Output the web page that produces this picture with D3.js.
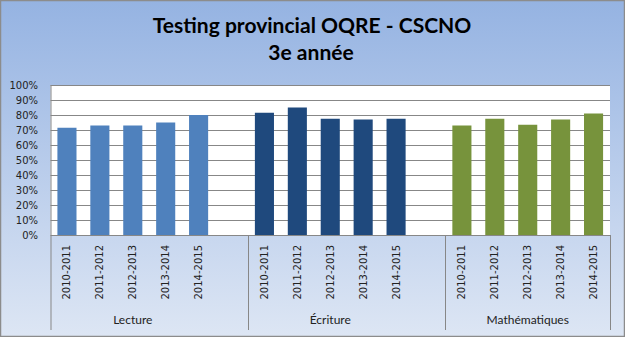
<!DOCTYPE html>
<html>
<head>
<meta charset="utf-8">
<script src="https://cdn.jsdelivr.net/npm/d3@7"></script>
<style>
  html, body { margin: 0; padding: 0; background: #fff; }
  svg { display: block; }
</style>
</head>
<body>
<div id="chart"></div>
<script>
// data
const subjects = ['Lecture', 'Écriture', 'Mathématiques'];
const years = ['2010-2011', '2011-2012', '2012-2013', '2013-2014', '2014-2015'];
const lecture = [71.5, 73, 73, 75, 80];
const ecriture = [81.5, 85, 77.5, 77, 77.5];
const maths = [73, 77.5, 73.5, 77, 81];
const yTicks = [0, 10, 20, 30, 40, 50, 60, 70, 80, 90, 100];
const colors = ['#4f81bd', '#1f497d', '#77933c'];

const width = 625, height = 337;
const margin = { top: 85, right: 15, bottom: 102, left: 50.5 };

// 17 slots: 5 years per subject with one empty slot between subjects
const slots = [];
const bars = [];
[lecture, ecriture, maths].forEach((vals, si) => {
  years.forEach((y, yi) => {
    const key = subjects[si] + '|' + y;
    slots.push(key);
    bars.push({ key: key, subject: si, year: y, value: vals[yi] });
  });
  if (si < subjects.length - 1) slots.push('gap' + si);
});

const svg = d3.select('#chart').append('svg')
  .attr('width', width)
  .attr('height', height);

// background gradient
const defs = svg.append('defs');
const grad = defs.append('linearGradient')
  .attr('id', 'bg')
  .attr('x1', 0).attr('y1', 0).attr('x2', 0).attr('y2', 1);
grad.append('stop').attr('offset', '0%').attr('stop-color', '#95b3e2');
grad.append('stop').attr('offset', '100%').attr('stop-color', '#dde6f4');

svg.append('rect')
  .attr('x', 0.5).attr('y', 0.5)
  .attr('width', width - 1).attr('height', height - 1)
  .attr('fill', 'url(#bg)')
  .attr('stroke', '#8c8c8c')
  .attr('stroke-width', 1.5);

const x = d3.scaleBand()
  .domain(slots)
  .range([margin.left, width - margin.right])
  .paddingInner(0.42)
  .paddingOuter(0.21);

const y = d3.scaleLinear()
  .domain([0, 100])
  .range([height - margin.bottom, margin.top]);

// plot area
svg.append('rect')
  .attr('x', margin.left)
  .attr('y', margin.top)
  .attr('width', width - margin.right - margin.left)
  .attr('height', y(0) - margin.top)
  .attr('fill', '#fff');

// gridlines
svg.append('g')
  .selectAll('line')
  .data(yTicks)
  .enter()
  .append('line')
  .attr('x1', margin.left)
  .attr('x2', width - margin.right)
  .attr('y1', d => Math.round(y(d)) + 0.5)
  .attr('y2', d => Math.round(y(d)) + 0.5)
  .attr('stroke', '#878787')
  .attr('stroke-width', 1);

// y labels
svg.append('g')
  .selectAll('text')
  .data(yTicks)
  .enter()
  .append('text')
  .attr('x', 38)
  .attr('y', d => y(d))
  .attr('dy', '0.35em')
  .attr('text-anchor', 'end')
  .attr('font-family', 'DejaVu Sans, Verdana, sans-serif')
  .attr('font-size', 10)
  .attr('fill', '#222')
  .text(d => d + '%');

// bars
svg.append('g')
  .selectAll('rect')
  .data(bars)
  .enter()
  .append('rect')
  .attr('x', d => x(d.key))
  .attr('y', d => y(d.value))
  .attr('width', x.bandwidth())
  .attr('height', d => y(0) - y(d.value))
  .attr('fill', d => colors[d.subject]);

// left axis line
svg.append('line')
  .attr('x1', margin.left + 0.5).attr('x2', margin.left + 0.5)
  .attr('y1', margin.top).attr('y2', 330)
  .attr('stroke', '#878787');

// group separators
const step = x.step();
const x0 = margin.left;
const seps = [6, 12, 17].map(n => Math.round(x0 + n * step) + 0.5);
svg.append('g')
  .selectAll('line')
  .data(seps)
  .enter()
  .append('line')
  .attr('x1', d => d).attr('x2', d => d)
  .attr('y1', y(0)).attr('y2', 330)
  .attr('stroke', '#878787');

// year labels (rotated)
svg.append('g')
  .selectAll('text')
  .data(bars)
  .enter()
  .append('text')
  .attr('transform', d => `translate(${x(d.key) + x.bandwidth() / 2},245) rotate(-90)`)
  .attr('dy', '0.35em')
  .attr('text-anchor', 'end')
  .attr('font-family', 'DejaVu Sans, Verdana, sans-serif')
  .attr('font-size', 10)
  .attr('fill', '#222')
  .text(d => d.year);

// subject labels
svg.append('g')
  .selectAll('text')
  .data(subjects)
  .enter()
  .append('text')
  .attr('x', (d, i) => {
    const a = x(d + '|' + years[0]);
    const b = x(d + '|' + years[4]) + x.bandwidth();
    return (a + b) / 2;
  })
  .attr('y', 324)
  .attr('text-anchor', 'middle')
  .attr('font-family', 'Lato, Open Sans, sans-serif')
  .attr('font-size', 12)
  .attr('fill', '#222')
  .text(d => d);

// title
const title = svg.append('g')
  .attr('font-family', 'Lato, Open Sans, sans-serif')
  .attr('font-weight', 'bold')
  .attr('text-anchor', 'middle')
  .attr('fill', '#000');
const t1 = title.append('text')
  .attr('x', 312).attr('y', 33)
  .attr('font-size', 20)
  .text('Testing provincial OQRE - CSCNO');
// fit the first line to the reference width
const w1 = t1.node().getComputedTextLength();
const fs = 20 * 319 / w1;
t1.attr('font-size', fs);
title.append('text')
  .attr('x', 311).attr('y', 60)
  .attr('font-size', fs)
  .text('3e année');
</script>
</body>
</html>
